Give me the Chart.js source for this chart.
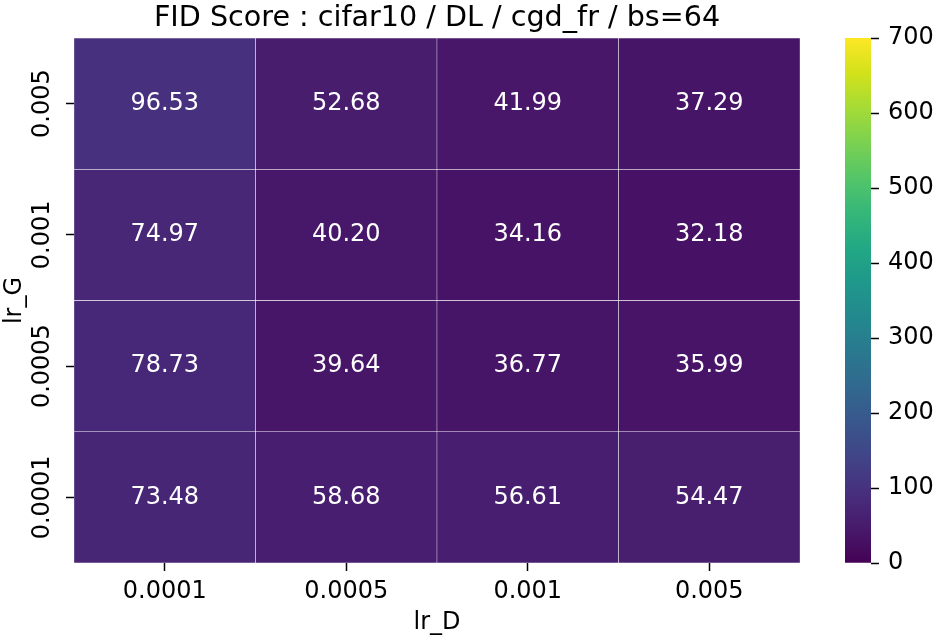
<!DOCTYPE html>
<html>
<head>
<meta charset="utf-8">
<script src="https://cdn.jsdelivr.net/npm/chart.js@4.4.3/dist/chart.umd.min.js"></script>
<style>
  html, body { margin: 0; padding: 0; background: #fff; }
  #wrap { position: relative; width: 934px; height: 637px; }
  #heatmap { position: absolute; left: 0; top: 0; }
  #colorbar { position: absolute; left: 800px; top: 0; }
</style>
</head>
<body>
<div id="wrap">
  <canvas id="heatmap" width="934" height="637"></canvas>
  <canvas id="colorbar" width="134" height="637"></canvas>
</div>
<script>
// columns (lr_D) and rows (lr_G, top to bottom)
const lrD = ["0.0001", "0.0005", "0.001", "0.005"];
const lrG = ["0.005", "0.001", "0.0005", "0.0001"];

// FID score per row of lr_G
const fidG0005 = [96.53, 52.68, 41.99, 37.29];
const fidG0001 = [74.97, 40.20, 34.16, 32.18];
const fidG00005 = [78.73, 39.64, 36.77, 35.99];
const fidG00001 = [73.48, 58.68, 56.61, 54.47];
const fidRows = [fidG0005, fidG0001, fidG00005, fidG00001];

const colorbarTicks = [0, 100, 200, 300, 400, 500, 600, 700];
const vmin = 0;
const vmax = 700;

const FONT = "'DejaVu Sans', 'Liberation Sans', sans-serif";

const VIRIDIS = [
  "#440154", "#481A6C", "#472F7D", "#414487", "#39568C", "#31688E",
  "#2A788E", "#23888E", "#1F988B", "#22A884", "#35B779", "#54C568",
  "#7AD151", "#A5DB36", "#D2E21B", "#FDE725",
];

function hexToRgb(hex) {
  const n = parseInt(hex.slice(1), 16);
  return [(n >> 16) & 255, (n >> 8) & 255, n & 255];
}

function viridis(value) {
  const t = Math.min(1, Math.max(0, (value - vmin) / (vmax - vmin)));
  const pos = t * (VIRIDIS.length - 1);
  const i = Math.min(VIRIDIS.length - 2, Math.floor(pos));
  const f = pos - i;
  const a = hexToRgb(VIRIDIS[i]);
  const b = hexToRgb(VIRIDIS[i + 1]);
  const rgb = a.map((v, k) => Math.round(v + (b[k] - v) * f));
  return `rgb(${rgb[0]}, ${rgb[1]}, ${rgb[2]})`;
}

const cellLabels = {
  id: "cellLabels",
  afterDatasetsDraw(chart) {
    const { ctx } = chart;
    ctx.save();
    ctx.font = `24px ${FONT}`;
    ctx.fillStyle = "#ffffff";
    ctx.textAlign = "center";
    ctx.textBaseline = "middle";
    fidRows.forEach((row, r) => {
      chart.getDatasetMeta(r).data.forEach((bar, c) => {
        const { x, y } = bar.getCenterPoint();
        ctx.fillText(row[c].toFixed(2), x, y);
      });
    });
    ctx.restore();
  },
};

const rowCount = lrG.length;

new Chart(document.getElementById("heatmap"), {
  type: "bar",
  data: {
    labels: lrD,
    datasets: fidRows.map((row, r) => ({
      label: lrG[r],
      // each cell spans one unit of the row axis
      data: row.map(() => [rowCount - 1 - r, rowCount - r]),
      backgroundColor: row.map((v) => viridis(v)),
      borderColor: "#ffffff",
      borderWidth: 0.5,
      borderSkipped: false,
      barPercentage: 1,
      categoryPercentage: 1,
      grouped: false,
    })),
  },
  options: {
    responsive: false,
    animation: false,
    layout: { padding: { left: 0, right: 134, top: 0, bottom: 0 } },
    scales: {
      x: {
        type: "category",
        grid: {
          offset: false,
          drawOnChartArea: false,
          tickLength: 8,
          tickColor: "#000",
          tickWidth: 1.5,
        },
        border: { display: false },
        ticks: {
          color: "#000",
          font: { family: FONT, size: 24 },
          padding: 6,
          maxRotation: 0,
        },
        title: {
          display: true,
          text: "lr_D",
          color: "#000",
          font: { family: FONT, size: 24 },
          padding: { top: 0, bottom: 0 },
        },
        afterFit(scale) {
          scale.height = 74;
        },
      },
      y: {
        type: "linear",
        min: 0,
        max: rowCount,
        grid: {
          drawOnChartArea: false,
          tickLength: 8,
          tickColor: "#000",
          tickWidth: 1.5,
        },
        border: { display: false },
        afterBuildTicks(scale) {
          scale.ticks = lrG.map((_, i) => ({ value: rowCount - 1 - i + 0.5 }));
        },
        ticks: {
          color: "#000",
          font: { family: FONT, size: 24 },
          minRotation: 90,
          maxRotation: 90,
          crossAlign: "center",
          padding: -19,
          callback(value) {
            return lrG[rowCount - 1 - Math.floor(value)];
          },
        },
        title: {
          display: true,
          text: "lr_G",
          color: "#000",
          font: { family: FONT, size: 24 },
          padding: { top: 0, bottom: 0 },
        },
        afterFit(scale) {
          scale.width = 74;
        },
      },
    },
    plugins: {
      legend: { display: false },
      tooltip: { enabled: false },
      title: {
        display: true,
        fullSize: false,
        text: "FID Score : cifar10 / DL / cgd_fr / bs=64",
        color: "#000",
        font: { family: FONT, size: 28.6, weight: "normal", lineHeight: 1.0 },
        padding: { top: 4, bottom: 5.4 },
      },
    },
  },
  plugins: [cellLabels],
});

new Chart(document.getElementById("colorbar"), {
  type: "bar",
  data: {
    labels: ["FID"],
    datasets: [
      {
        data: [[vmin, vmax]],
        backgroundColor(context) {
          const { chart } = context;
          const area = chart.chartArea;
          if (!area) {
            return VIRIDIS[0];
          }
          const gradient = chart.ctx.createLinearGradient(0, area.bottom, 0, area.top);
          VIRIDIS.forEach((color, i) => {
            gradient.addColorStop(i / (VIRIDIS.length - 1), color);
          });
          return gradient;
        },
        borderWidth: 0,
        barPercentage: 1,
        categoryPercentage: 1,
      },
    ],
  },
  options: {
    responsive: false,
    animation: false,
    layout: { padding: { left: 45, right: 0, top: 38, bottom: 74 } },
    scales: {
      x: { display: false },
      y: {
        position: "right",
        min: vmin,
        max: vmax,
        grid: {
          drawOnChartArea: false,
          tickLength: 8,
          tickColor: "#000",
          tickWidth: 1.5,
        },
        border: { display: false },
        afterBuildTicks(scale) {
          scale.ticks = colorbarTicks.map((value) => ({ value }));
        },
        ticks: {
          color: "#000",
          font: { family: FONT, size: 24 },
          padding: 9,
        },
        afterFit(scale) {
          scale.width = 63;
        },
      },
    },
    plugins: {
      legend: { display: false },
      tooltip: { enabled: false },
    },
  },
});
</script>
</body>
</html>
